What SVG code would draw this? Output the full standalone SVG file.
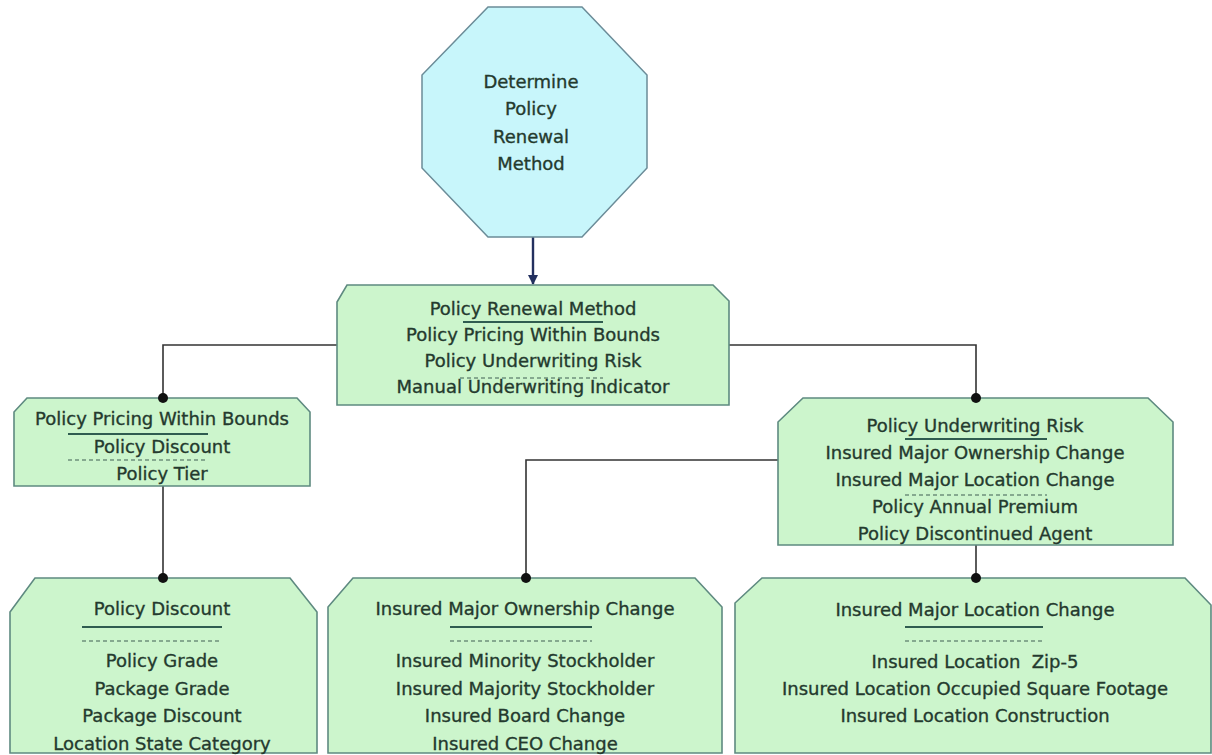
<svg xmlns="http://www.w3.org/2000/svg" width="1212" height="755" viewBox="0 0 1212 755">
<style>
  .bg { fill: #ffffff; }
  .oct { fill: #c8f6fb; stroke: #6b8c98; stroke-width: 1.5; }
  .box { fill: #ccf5cc; stroke: #5e8a80; stroke-width: 1.6; }
  .t { font-family: "DejaVu Sans", "Liberation Sans", sans-serif; font-size: 18px; fill: #243a2e; stroke: #243a2e; stroke-width: 0.35; text-anchor: middle; }
  .ul { stroke: #2f5c50; stroke-width: 2; fill: none; }
  .dl { stroke: #3f5f52; stroke-width: 1.2; stroke-dasharray: 4 3; fill: none; }
  .conn { stroke: #333333; stroke-width: 1.6; fill: none; }
  .dot { fill: #111111; }
  .arrow { stroke: #23305f; stroke-width: 2.4; fill: none; }
</style>
<defs>
  <marker id="ah" viewBox="0 0 10 10" refX="9" refY="5" markerWidth="10" markerHeight="10" orient="auto" markerUnits="userSpaceOnUse">
    <path d="M0,0 L10,5 L0,10 z" fill="#23305f"/>
  </marker>
</defs>
<rect class="bg" x="0" y="0" width="1212" height="755"/>

<g id="connectors">
  <line class="arrow" x1="533" y1="237" x2="533" y2="284" marker-end="url(#ah)"/>
  <polyline class="conn" points="337,345 163,345 163,398"/>
  <polyline class="conn" points="729,345 976,345 976,398"/>
  <polyline class="conn" points="778,460 526,460 526,578"/>
  <polyline class="conn" points="163,486 163,578"/>
  <polyline class="conn" points="976,545 976,578"/>
</g>

<g id="node-determine">
  <polygon class="oct" points="488,7 582,7 647,75 647,168 582,237 488,237 422,168 422,75"/>
  <text class="t" x="531" y="88">Determine</text>
  <text class="t" x="531" y="115">Policy</text>
  <text class="t" x="531" y="143">Renewal</text>
  <text class="t" x="531" y="170">Method</text>
</g>

<g id="node-renewal-method">
  <polygon class="box" points="347,285 713,285 729,301 729,405 337,405 337,302"/>
  <text class="t" x="533" y="315">Policy Renewal Method</text>
  <line class="ul" x1="463" y1="322" x2="603" y2="322"/>
  <text class="t" x="533" y="341">Policy Pricing Within Bounds</text>
  <text class="t" x="533" y="367">Policy Underwriting Risk</text>
  <line class="dl" x1="460" y1="378" x2="603" y2="378"/>
  <text class="t" x="533" y="393">Manual Underwriting Indicator</text>
</g>

<g id="node-pricing">
  <polygon class="box" points="27,398 297,398 310,412 310,486 14,486 14,412"/>
  <text class="t" x="162" y="425">Policy Pricing Within Bounds</text>
  <line class="ul" x1="68" y1="434" x2="208" y2="434"/>
  <text class="t" x="162" y="453">Policy Discount</text>
  <line class="dl" x1="68" y1="460" x2="208" y2="460"/>
  <text class="t" x="162" y="480">Policy Tier</text>
</g>

<g id="node-underwriting">
  <polygon class="box" points="803,398 1148,398 1173,422 1173,545 778,545 778,422"/>
  <text class="t" x="975" y="432">Policy Underwriting Risk</text>
  <line class="ul" x1="905" y1="439" x2="1047" y2="439"/>
  <text class="t" x="975" y="459">Insured Major Ownership Change</text>
  <text class="t" x="975" y="486">Insured Major Location Change</text>
  <line class="dl" x1="905" y1="495" x2="1047" y2="495"/>
  <text class="t" x="975" y="513">Policy Annual Premium</text>
  <text class="t" x="975" y="540">Policy Discontinued Agent</text>
</g>

<g id="node-discount">
  <polygon class="box" points="35,578 290,578 317,612 317,753 10,753 10,612"/>
  <text class="t" x="162" y="615">Policy Discount</text>
  <line class="ul" x1="82" y1="627" x2="222" y2="627"/>
  <line class="dl" x1="82" y1="641" x2="222" y2="641"/>
  <text class="t" x="162" y="667">Policy Grade</text>
  <text class="t" x="162" y="695">Package Grade</text>
  <text class="t" x="162" y="722">Package Discount</text>
  <text class="t" x="162" y="750">Location State Category</text>
</g>

<g id="node-ownership">
  <polygon class="box" points="353,578 695,578 722,607 722,753 328,753 328,607"/>
  <text class="t" x="525" y="615">Insured Major Ownership Change</text>
  <line class="ul" x1="450" y1="627" x2="592" y2="627"/>
  <line class="dl" x1="450" y1="641" x2="592" y2="641"/>
  <text class="t" x="525" y="667">Insured Minority Stockholder</text>
  <text class="t" x="525" y="695">Insured Majority Stockholder</text>
  <text class="t" x="525" y="722">Insured Board Change</text>
  <text class="t" x="525" y="750">Insured CEO Change</text>
</g>

<g id="node-location">
  <polygon class="box" points="762,578 1185,578 1211,605 1211,753 735,753 735,603"/>
  <text class="t" x="975" y="616">Insured Major Location Change</text>
  <line class="ul" x1="905" y1="627" x2="1043" y2="627"/>
  <line class="dl" x1="905" y1="641" x2="1043" y2="641"/>
  <text class="t" x="975" y="668" xml:space="preserve">Insured Location  Zip-5</text>
  <text class="t" x="975" y="695">Insured Location Occupied Square Footage</text>
  <text class="t" x="975" y="722">Insured Location Construction</text>
</g>

<g id="dots">
  <circle class="dot" cx="163" cy="398" r="5"/>
  <circle class="dot" cx="976" cy="398" r="5"/>
  <circle class="dot" cx="526" cy="578" r="5"/>
  <circle class="dot" cx="163" cy="578" r="5"/>
  <circle class="dot" cx="976" cy="578" r="5"/>
</g>
</svg>
